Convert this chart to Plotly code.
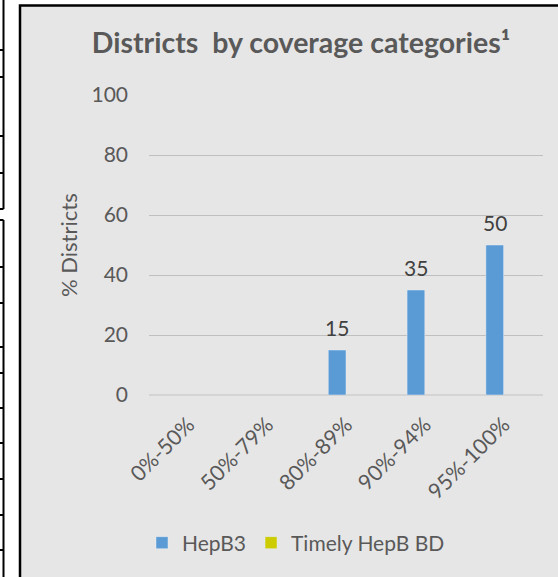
import plotly.graph_objects as go

categories = ["0%-50%", "50%-79%", "80%-89%", "90%-94%", "95%-100%"]
hepb3 = [None, None, 15, 35, 50]
timely_bd = [None, None, None, None, None]
y_ticks = [0, 20, 40, 60, 80, 100]

W, H = 558, 577
L, R, T, B = 149, 15, 95, 182
PW, PH = W - L - R, H - T - B
BARGAP = 0.55
N_SERIES = 2

def X(px):
    return (px - L) / PW

def Y(py):
    return (H - B - py) / PH

FONT = "Lato"
TXT = "#595959"

fig = go.Figure()
fig.add_trace(go.Bar(x=categories, y=hepb3, name="HepB3", marker_color="#5B9BD5"))
fig.add_trace(go.Bar(x=categories, y=timely_bd, name="Timely HepB BD", marker_color="#CCCC00"))

# data labels for HepB3, centred over its slot in the group
bar_w = (1 - BARGAP) / N_SERIES
for i, v in enumerate(hepb3):
    if v is not None:
        fig.add_annotation(x=i - bar_w / 2, y=v, xref="x", yref="y", text=str(v), showarrow=False,
                           yanchor="middle", yshift=23,
                           font=dict(color="#404040", size=21, family=FONT))

shapes = []
# chart frame
shapes.append(dict(type="rect", xref="paper", yref="paper", x0=X(20), x1=X(620), y0=Y(640), y1=Y(5.5),
                   line=dict(color="black", width=2.5), fillcolor="#E7E6E6", layer="below"))
# partial table on the left
line = dict(color="black", width=2)
shapes.append(dict(type="line", xref="paper", yref="paper", x0=X(3.5), x1=X(3.5), y0=Y(-10), y1=Y(209), line=line))
shapes.append(dict(type="line", xref="paper", yref="paper", x0=X(-5), x1=X(3.5), y0=Y(209), y1=Y(209), line=line))
shapes.append(dict(type="line", xref="paper", yref="paper", x0=X(3.5), x1=X(3.5), y0=Y(220), y1=Y(640), line=line))
shapes.append(dict(type="line", xref="paper", yref="paper", x0=X(-5), x1=X(3.5), y0=Y(220), y1=Y(220), line=line))
for ty in [50, 77, 136, 173, 267, 303, 347, 373, 408, 443, 479, 515, 550]:
    shapes.append(dict(type="line", xref="paper", yref="paper", x0=X(-5), x1=X(3.5), y0=Y(ty), y1=Y(ty), line=line))

fig.update_layout(
    width=W, height=H,
    margin=dict(l=L, r=R, t=T, b=B, pad=0),
    paper_bgcolor="white", plot_bgcolor="rgba(0,0,0,0)",
    font=dict(family=FONT, color=TXT, size=21),
    title=dict(text="<b>Districts  by coverage categories¹</b>", x=301 / W, xanchor="center",
               y=1 - 43 / H, yanchor="middle", font=dict(size=28.5, color=TXT, family=FONT)),
    barmode="group", bargap=BARGAP, bargroupgap=0,
    showlegend=True,
    legend=dict(orientation="h", x=X(296), xanchor="center", y=Y(543), yanchor="middle",
                font=dict(size=21, color=TXT), bgcolor="rgba(0,0,0,0)", itemwidth=30,
                traceorder="normal"),
    shapes=shapes,
)
fig.update_yaxes(range=[0, 100], tickvals=y_ticks, showgrid=True, gridcolor="#BFBFBF", gridwidth=1.3,
                 zeroline=True, zerolinecolor="#D4D4D4", zerolinewidth=2, showline=False,
                 ticks="", ticklabelstandoff=20, tickfont=dict(size=21, color=TXT))
fig.update_xaxes(tickangle=-45, showline=False, ticks="", ticklabelstandoff=12,
                 tickfont=dict(size=21.5, color=TXT))
fig.add_annotation(text="% Districts", textangle=-90, xref="paper", yref="paper", x=X(68), y=Y(245),
                   xanchor="center", yanchor="middle", showarrow=False, font=dict(size=22, color=TXT, family=FONT))

fig.write_html("out.html", config={"displayModeBar": False},
               post_script="document.body.style.margin='0';")
